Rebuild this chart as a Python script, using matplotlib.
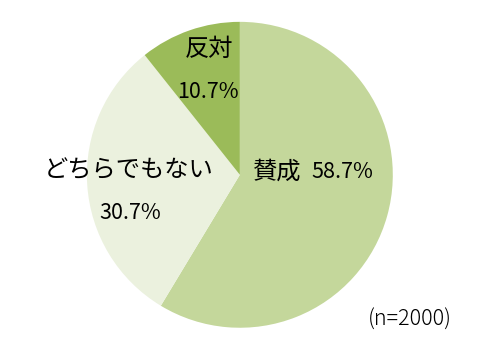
import matplotlib
matplotlib.use("Agg")
import matplotlib.pyplot as plt

plt.rcParams['font.family'] = ['Noto Sans CJK JP', 'DejaVu Sans']

labels = ["賛成", "どちらでもない", "反対"]
values = [58.7, 30.7, 10.7]
colors = ["#c4d79b", "#ebf1de", "#9bbb59"]
sample_note = "(n=2000)"

fig = plt.figure(figsize=(4.91, 3.56), dpi=100)
ax = fig.add_axes([0.177, 0.079, 0.623, 0.86])

ax.pie(values, colors=colors, startangle=90, counterclock=False,
       radius=1.0, wedgeprops={'linewidth': 0})
ax.set_xlim(-1, 1)
ax.set_ylim(-1, 1)
ax.set_aspect('equal')
ax.axis('off')

fs_label = 17.5
fs_num = 15.5
# 賛成 label inside the big slice
ax.text(0.245, 0.02, labels[0], ha='center', va='center', fontsize=fs_label)
ax.text(0.47, 0.02, f"{values[0]}%", ha='left', va='center', fontsize=fs_num)
# どちらでもない
ax.text(-0.73, 0.03, labels[1], ha='center', va='center', fontsize=fs_label)
ax.text(-0.72, -0.25, f"{values[1]}%", ha='center', va='center', fontsize=fs_num)
# 反対
ax.text(-0.2, 0.82, labels[2], ha='center', va='center', fontsize=fs_label)
ax.text(-0.21, 0.54, f"{values[2]}%", ha='center', va='center', fontsize=fs_num)

fig.text(410 / 491, 1 - 320 / 356, sample_note, ha='center', va='center',
         fontsize=15.5, fontweight='light')

fig.savefig("out.png", dpi=100)
